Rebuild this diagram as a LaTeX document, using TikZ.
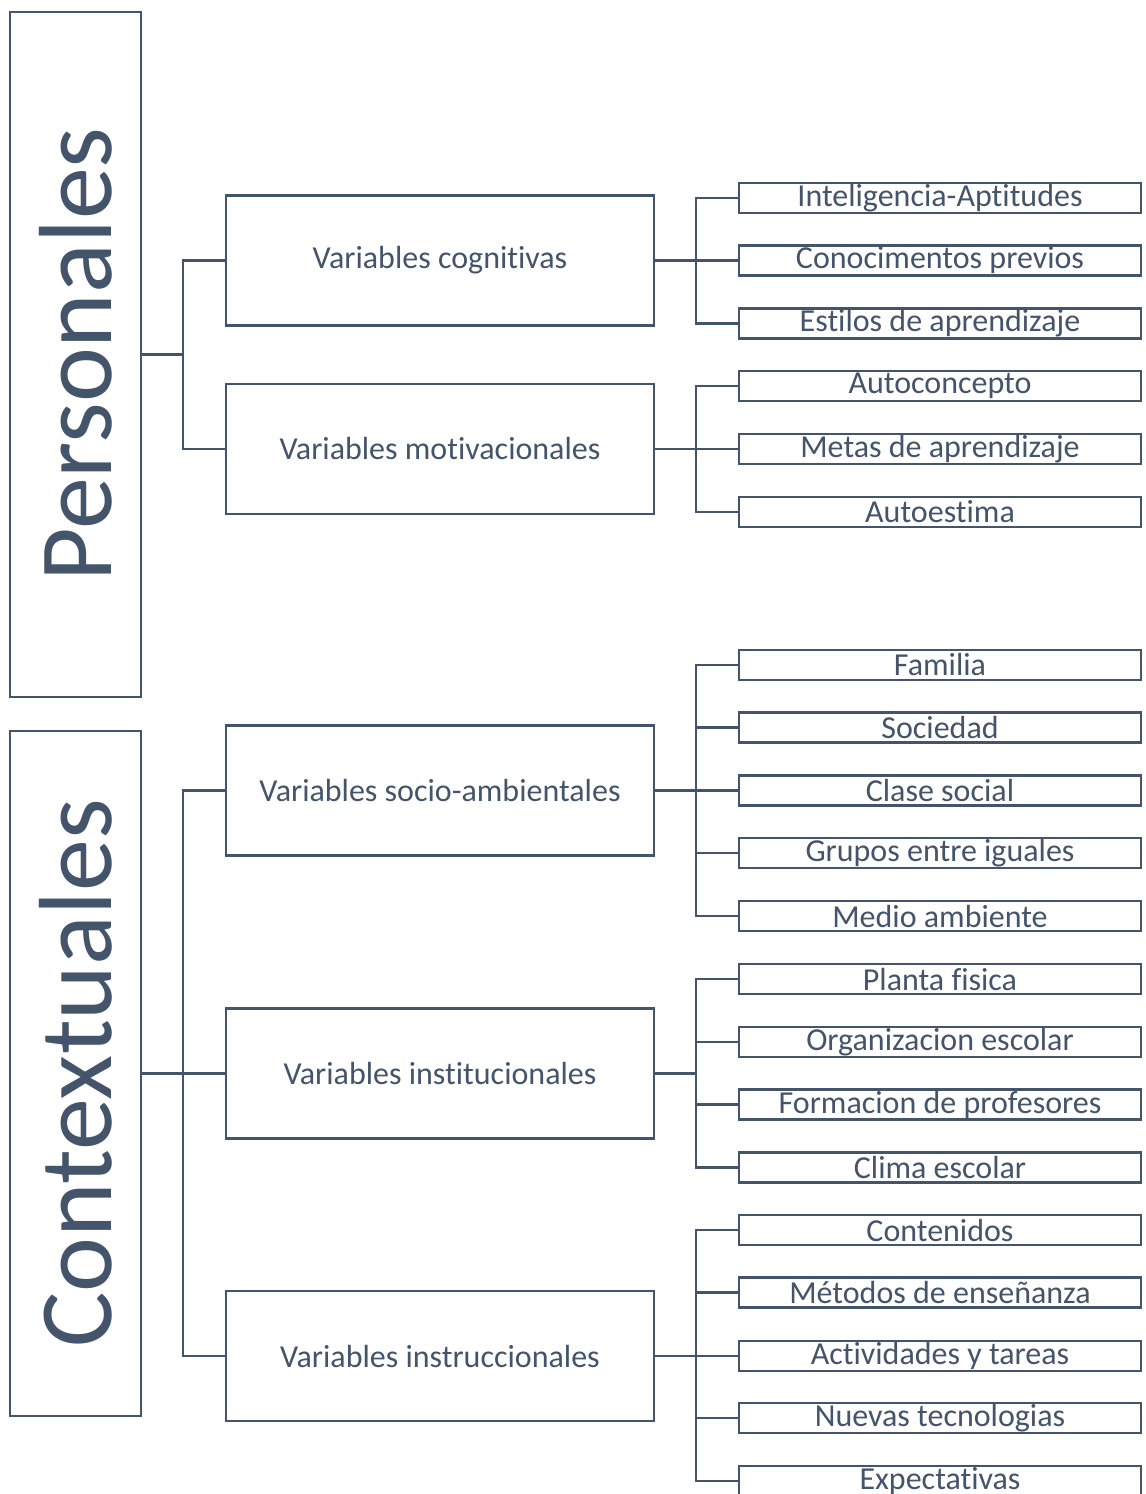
\documentclass[tikz,border=0pt]{standalone}
\usepackage{fontspec}
\setmainfont{Carlito}[Ligatures={NoCommon,NoRare},Contextuals={NoAlternate}]
\usepackage{tikz}
\usetikzlibrary{positioning}
\definecolor{slate}{HTML}{44546A}

\begin{document}
\begin{tikzpicture}[x=0.75pt,y=-0.75pt,line width=2.2pt]
        \tikzstyle{every node}+=[inner sep=0pt, text=slate]
        \tikzstyle{bigbox}=[draw=slate, minimum width=98.25pt, minimum height=513.75pt, font=\fontsize{78}{90}\selectfont]
        \tikzstyle{midbox}=[draw=slate, minimum width=321pt, minimum height=97.5pt, font=\fontsize{24}{28}\selectfont]
        \tikzstyle{smallbox}=[draw=slate, minimum width=301.5pt, minimum height=22.5pt, font=\fontsize{24}{28}\selectfont]
        \tikzstyle{conn}=[draw=slate]
        \clip (0,0) rectangle (1145,1494);
        \fill [white] (0,0) rectangle (1145,1494);
        % main boxes
        \node [bigbox] (pers) at (75.5,354.5) {\rotatebox{90}{Personales}};
        \node [bigbox] (contx) at (75.5,1073.5) {\rotatebox{90}{Contextuales}};
        % middle boxes
        \node [midbox] (cogn) at (440,260.5) {Variables cognitivas};
        \node [midbox] (motiv) at (440,449) {Variables motivacionales};
        \node [midbox] (socio) at (440,790.5) {Variables socio-ambientales};
        \node [midbox] (instit) at (440,1073.5) {Variables institucionales};
        \node [midbox] (instruc) at (440,1356) {Variables instruccionales};
        % small boxes
        \node [smallbox] (intel) at (940,198) {Inteligencia-Aptitudes};
        \node [smallbox] (conoc) at (940,260.5) {Conocimentos previos};
        \node [smallbox] (estilos) at (940,323.5) {Estilos de aprendizaje};
        \node [smallbox] (autoc) at (940,386) {Autoconcepto};
        \node [smallbox] (metas) at (940,449) {Metas de aprendizaje};
        \node [smallbox] (autoest) at (940,512) {Autoestima};
        \node [smallbox] (familia) at (940,665) {Familia};
        \node [smallbox] (sociedad) at (940,727.5) {Sociedad};
        \node [smallbox] (clase) at (940,790.5) {Clase social};
        \node [smallbox] (grupos) at (940,853) {Grupos entre iguales};
        \node [smallbox] (medio) at (940,916) {Medio ambiente};
        \node [smallbox] (planta) at (940,979) {Planta fisica};
        \node [smallbox] (organiz) at (940,1042) {Organizacion escolar};
        \node [smallbox] (formac) at (940,1104.5) {Formacion de profesores};
        \node [smallbox] (clima) at (940,1167.5) {Clima escolar};
        \node [smallbox] (conten) at (940,1230) {Contenidos};
        \node [smallbox] (metodos) at (940,1292.5) {Métodos de enseñanza};
        \node [smallbox] (activ) at (940,1356) {Actividades y tareas};
        \node [smallbox] (nuevas) at (940,1418) {Nuevas tecnologias};
        \node [smallbox] (expect) at (940,1481) {Expectativas};
        % buses
        \coordinate (busP) at (183,354.5);
        \coordinate (busC) at (183,1073.5);
        \coordinate (busCogn) at (696,260.5);
        \coordinate (busMotiv) at (696,449);
        \coordinate (busSocio) at (696,790.5);
        \coordinate (busInstit) at (696,1073.5);
        \coordinate (busInstruc) at (696,1356);
        % connectors, first level
        \draw [conn] (pers.east) -- (busP);
        \draw [conn] (cogn.west) -| (busP) |- (motiv.west);
        \draw [conn] (contx.east) -- (busC);
        \draw [conn] (socio.west) -| (busC) |- (instruc.west);
        \draw [conn] (busC) -- (instit.west);
        % connectors, second level
        \draw [conn] (cogn.east) -- (busCogn);
        \draw [conn] (intel.west) -| (busCogn) |- (estilos.west);
        \draw [conn] (busCogn) -- (conoc.west);
        \draw [conn] (motiv.east) -- (busMotiv);
        \draw [conn] (autoc.west) -| (busMotiv) |- (autoest.west);
        \draw [conn] (busMotiv) -- (metas.west);
        \draw [conn] (socio.east) -- (busSocio);
        \draw [conn] (familia.west) -| (busSocio) |- (medio.west);
        \foreach \n in {sociedad,clase,grupos}
          \draw [conn] (\n.west) -- (\n.west -| busSocio);
        \draw [conn] (instit.east) -- (busInstit);
        \draw [conn] (planta.west) -| (busInstit) |- (clima.west);
        \foreach \n in {organiz,formac}
          \draw [conn] (\n.west) -- (\n.west -| busInstit);
        \draw [conn] (instruc.east) -- (busInstruc);
        \draw [conn] (conten.west) -| (busInstruc) |- (expect.west);
        \foreach \n in {metodos,activ,nuevas}
          \draw [conn] (\n.west) -- (\n.west -| busInstruc);
\end{tikzpicture}
\end{document}
